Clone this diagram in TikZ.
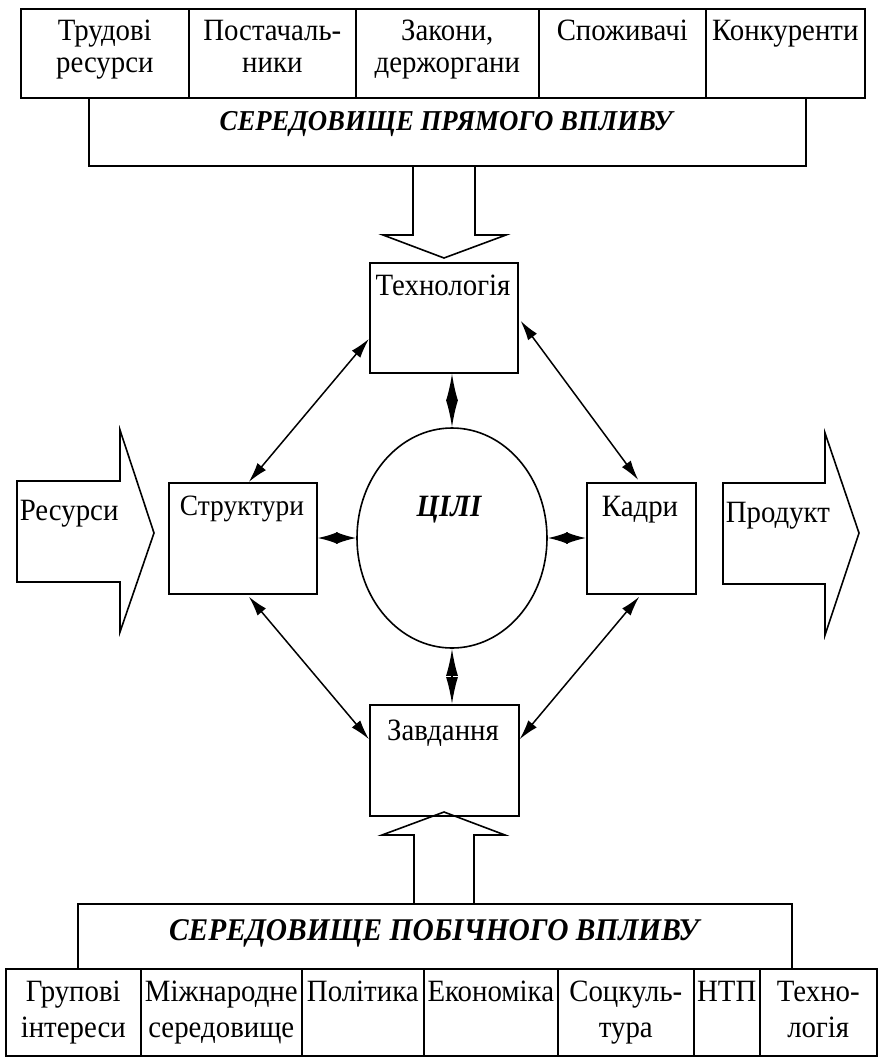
\documentclass[tikz,border=0pt]{standalone}
\usepackage{fontspec}
\setmainfont{Liberation Serif}[FakeStretch=0.93]
\usetikzlibrary{arrows.meta,shapes.geometric}
\begin{document}
\begin{tikzpicture}[x=1pt,y=-1pt,line width=1.6pt,line join=miter,
  cell/.style={draw,rectangle,inner sep=0pt,anchor=north west},
  txt/.style={font=\fontsize{31}{32}\selectfont,align=center,inner sep=0pt},
  lowtxt/.style={font=\fontsize{31}{36}\selectfont,align=center,inner sep=0pt},
  head/.style={font=\fontsize{#1}{#1}\selectfont\bfseries\itshape,inner sep=0pt,anchor=base},
  link/.style={line width=1.5pt,{Latex[length=20pt,width=11pt]}-{Latex[length=20pt,width=11pt]}},
  tiny/.style={line width=1.5pt,{Latex[length=#1,width=12pt]}-{Latex[length=#1,width=12pt]}},
  block/.style={draw,line width=1.6pt}]
\useasboundingbox (0,0) rectangle (881,1058);

% factors of direct influence
\node[cell,minimum width=168pt,minimum height=89pt] (d1) at (20,8) {};
\node[cell,minimum width=167pt,minimum height=89pt] (d2) at (188,8) {};
\node[cell,minimum width=183pt,minimum height=89pt] (d3) at (355,8) {};
\node[cell,minimum width=167pt,minimum height=89pt] (d4) at (538,8) {};
\node[cell,minimum width=159pt,minimum height=89pt] (d5) at (705,8) {};
\node[txt,anchor=north] (d1t) at ([yshift=-11pt]d1.north) {Трудові\\ресурси};
\node[txt,anchor=north] (d2t) at ([yshift=-11pt]d2.north) {Постачаль-\\ники};
\node[txt,anchor=north] (d3t) at ([yshift=-11pt]d3.north) {Закони,\\держоргани};
\node[txt,anchor=north] (d4t) at ([yshift=-11pt]d4.north) {Споживачі};
\node[txt,anchor=north] (d5t) at ([yshift=-11pt]d5.north) {Конкуренти};

\node[cell,minimum width=717pt,minimum height=68pt] (pv) at (88,97) {};
\node[head=28.8] (pvt) at (446,130) {СЕРЕДОВИЩЕ ПРЯМОГО ВПЛИВУ};

% inner variables
\node[cell,minimum width=148pt,minimum height=110pt] (tech) at (369,262) {};
\node[txt,anchor=base] (techt) at (443,295) {Технологія};
\node[cell,minimum width=148pt,minimum height=111pt] (strukt) at (168,482) {};
\node[txt,anchor=base,font=\fontsize{29.5}{30}\selectfont] (struktt) at (242,515) {Структури};
\node[cell,minimum width=109pt,minimum height=111pt] (kadry) at (586,482) {};
\node[txt,anchor=base] (kadryt) at (640,516) {Кадри};
\node[cell,minimum width=149pt,minimum height=111pt] (zav) at (369,704) {};
\node[txt,anchor=base] (zavt) at (443,740) {Завдання};
\node[draw,ellipse,minimum width=190pt,minimum height=220pt,inner sep=0pt] (goal) at (452,538) {};
\node[head=31] (goalt) at (449,516) {ЦІЛІ};

% input and output
\draw[block] (17,481) -- (120,481) -- (120,430) -- (154,533) -- (120,632) -- (120,582) -- (17,582) -- cycle;
\node[txt,anchor=base west] (res) at (19,520) {Ресурси};
\draw[block] (723,483) -- (825,483) -- (825,433) -- (859,533) -- (825,635) -- (825,584) -- (723,584) -- cycle;
\node[txt,anchor=base west] (prod) at (725,522) {Продукт};

% influence of the environments
\draw[block] (413,165) -- (413,235) -- (383,235) -- (444,258) -- (506,235) -- (475,235) -- (475,165);
\draw[block] (414,903) -- (414,835) -- (382,835) -- (444,812) -- (505,835) -- (474,835) -- (474,903);

% links between the variables
\draw[link] ([yshift=-21pt]tech.west) -- ([xshift=6pt]strukt.north);
\draw[link] ([xshift=2pt,yshift=-3pt]tech.east) -- ([xshift=-3pt,yshift=2pt]kadry.north);
\draw[link] ([xshift=6pt,yshift=-2pt]strukt.south) -- ([yshift=21pt]zav.west);
\draw[link] ([xshift=-2pt,yshift=-2pt]kadry.south) -- ([yshift=21pt]zav.east);
\draw[tiny=27pt] (goal.north |- tech.south) -- (goal.north);
\draw[tiny=27pt] (goal.south) -- (goal.south |- zav.north);
\draw[tiny=20pt] (strukt.east |- goal.west) -- (goal.west);
\draw[tiny=20pt] (goal.east) -- (kadry.west |- goal.east);

% factors of indirect influence
\node[cell,minimum width=714pt,minimum height=65pt] (pb) at (77,903) {};
\node[head=31.6] (pbt) at (434,940) {СЕРЕДОВИЩЕ ПОБІЧНОГО ВПЛИВУ};

\node[cell,minimum width=135pt,minimum height=87pt] (b1) at (5,968) {};
\node[cell,minimum width=161pt,minimum height=87pt] (b2) at (140,968) {};
\node[cell,minimum width=122pt,minimum height=87pt] (b3) at (301,968) {};
\node[cell,minimum width=134pt,minimum height=87pt] (b4) at (423,968) {};
\node[cell,minimum width=136pt,minimum height=87pt] (b5) at (557,968) {};
\node[cell,minimum width=66pt,minimum height=87pt] (b6) at (693,968) {};
\node[cell,minimum width=117pt,minimum height=87pt] (b7) at (759,968) {};
\node[lowtxt,anchor=north] (b1t) at ([yshift=-12pt]b1.north) {Групові\\інтереси};
\node[lowtxt,anchor=north] (b2t) at ([yshift=-12pt]b2.north) {Міжнародне\\середовище};
\node[lowtxt,anchor=north] (b3t) at ([yshift=-12pt]b3.north) {Політика};
\node[lowtxt,anchor=north] (b4t) at ([yshift=-12pt]b4.north) {Економіка};
\node[lowtxt,anchor=north] (b5t) at ([yshift=-12pt]b5.north) {Соцкуль-\\тура};
\node[lowtxt,anchor=north] (b6t) at ([yshift=-12pt]b6.north) {НТП};
\node[lowtxt,anchor=north] (b7t) at ([yshift=-12pt]b7.north) {Техно-\\логія};
\end{tikzpicture}
\end{document}
